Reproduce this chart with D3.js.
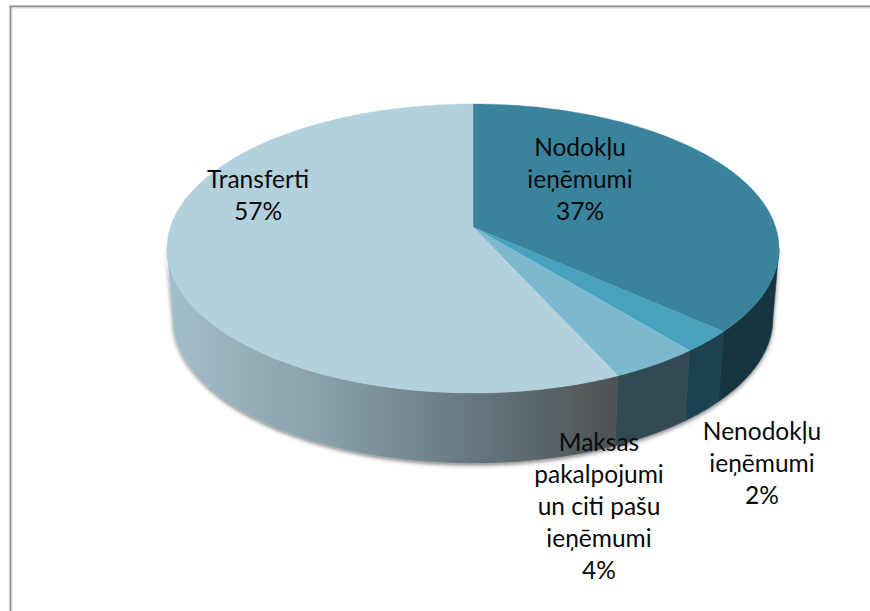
<!DOCTYPE html>
<html>
<head>
<meta charset="utf-8">
<script src="https://cdnjs.cloudflare.com/ajax/libs/d3/7.8.5/d3.min.js"></script>
<style>
html,body{margin:0;padding:0;background:#fff;overflow:hidden}
svg{display:block}
text{font-family:Lato,"Open Sans",sans-serif;font-size:24.5px;fill:#0a0a0a}
</style>
</head>
<body>
<svg id="c" width="870" height="611"></svg>
<script>
const categories = ["Nodokļu ieņēmumi", "Nenodokļu ieņēmumi", "Maksas pakalpojumi un citi pašu ieņēmumi", "Transferti"];
const values = [36.6, 2.49, 4.11, 56.8];
const percentLabels = ["37%", "2%", "4%", "57%"];
const labelLines = [["Nodokļu", "ieņēmumi"], ["Nenodokļu", "ieņēmumi"], ["Maksas", "pakalpojumi", "un citi pašu", "ieņēmumi"], ["Transferti"]];
const topColors = ["#3a839d", "#47a3bd", "#7cb9cf", "#b3d1dd"];
const sideColors = ["#17363f", "#1b4350", "#304b53", null];

const svg = d3.select("#c");
const W = 870, H = 611;

// frame
svg.append("path").attr("d", `M10.5,${H}V6.5H${W}`).attr("fill", "none").attr("stroke", "#8e8e8e").attr("stroke-width", 2);
svg.append("path").attr("d", `M12,${H}V8H${W}`).attr("fill", "none").attr("stroke", "#dcdcdc").attr("stroke-width", 1);

// perspective disc projection
const apex = {x: 473, y: 227}, k = 0.1488;
const sx = d3.scaleLinear().domain([0, 1]).range([apex.x, apex.x + 302.6]);
const sy = d3.scaleLinear().domain([0, 1]).range([apex.y, apex.y - 141.3]);
const depth = 70, shrink = 0.98;
function rim(a) {
  const u = Math.sin(a), v = Math.cos(a), w = 1 + k * v;
  return [sx(u / w), sy(v / w)];
}
function low(p) {
  return [apex.x + (p[0] - apex.x) * shrink, p[1] + depth];
}
const line = d3.line();
const arcs = d3.pie().sort(null).value(d => d)(values);
const pts = (a0, a1) => d3.range(0, 81).map(i => rim(a0 + (a1 - a0) * i / 80));

// only the part of the wall between the two silhouette angles is visible
const aRight = Math.acos(-k), aLeft = 2 * Math.PI - aRight;

const defs = svg.append("defs");
const f = defs.append("filter").attr("id", "sh").attr("x", "-10%").attr("y", "-10%").attr("width", "120%").attr("height", "120%");
f.append("feDropShadow").attr("dx", 0).attr("dy", 2).attr("stdDeviation", 2).attr("flood-color", "#000").attr("flood-opacity", 0.5);

const g = defs.append("linearGradient").attr("id", "sideT").attr("gradientUnits", "userSpaceOnUse")
  .attr("x1", rim(aLeft)[0]).attr("x2", rim(arcs[3].startAngle)[0]).attr("y1", 0).attr("y2", 0);
[[0, "#a3bfcb"], [0.35, "#87a0aa"], [0.7, "#63757b"], [1, "#4e5154"]].forEach(s => g.append("stop").attr("offset", s[0]).attr("stop-color", s[1]));

const sideG = svg.append("g").attr("filter", "url(#sh)");
arcs.forEach((d, i) => {
  const a0 = Math.max(d.startAngle, aRight), a1 = Math.min(d.endAngle, aLeft);
  if (a1 <= a0) return;
  const p = pts(a0, a1);
  const poly = p.concat(p.map(low).reverse());
  sideG.append("path").attr("d", line(poly) + "Z")
    .attr("fill", sideColors[i] || "url(#sideT)")
    .attr("stroke", sideColors[i] || "url(#sideT)").attr("stroke-width", 0.5);
});

// top face
arcs.forEach((d, i) => {
  const poly = [[apex.x, apex.y]].concat(pts(d.startAngle, d.endAngle));
  svg.append("path").attr("d", line(poly) + "Z").attr("fill", topColors[i]).attr("stroke", topColors[i]).attr("stroke-width", 0.4);
});

// labels
const labelCenterX = [580, 762, 599, 258];
const labelFirstBaseline = [156, 440, 451, 188];
const labelStep = 32;
categories.forEach((c, i) => {
  const lines = labelLines[i].concat(percentLabels[i]);
  const t = svg.append("text").attr("text-anchor", "middle");
  lines.forEach((l, j) => t.append("tspan").attr("x", labelCenterX[i]).attr("y", labelFirstBaseline[i] + j * labelStep).text(l));
});
</script>
</body>
</html>
